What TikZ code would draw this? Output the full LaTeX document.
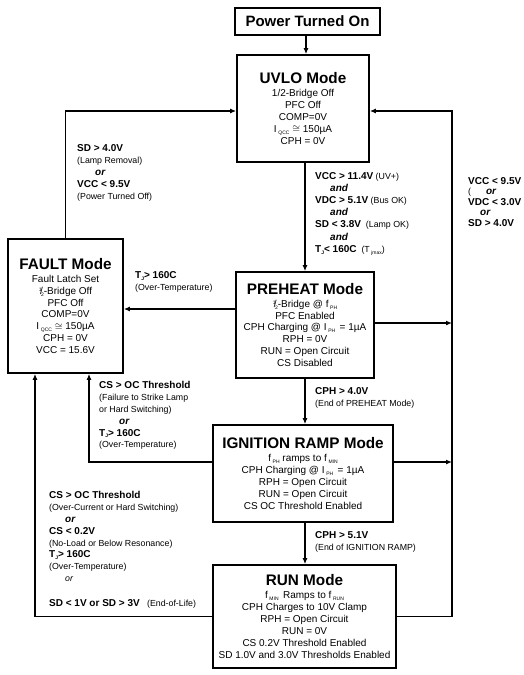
\documentclass[tikz,border=0pt]{standalone}
\usepackage{fontspec}
\setmainfont{Liberation Sans}
\usetikzlibrary{arrows.meta}
\newcommand\sbs[1]{\raisebox{-0.35ex}{\fontsize{5}{5}\selectfont #1}}
\newcommand\half{\raisebox{0.5ex}{\fontsize{5}{5}\selectfont 1}\!/\!\sbs{2}}
\newcommand\bb[1]{{\fontsize{10}{11}\selectfont\bfseries #1}}
\newcommand\bi[1]{{\fontsize{10}{11}\selectfont\bfseries\itshape #1}}
\begin{document}
\begin{tikzpicture}[x=1pt,y=-1pt,
  box/.style={draw,line width=1.7pt,align=center,inner sep=0pt,font=\fontsize{10}{11.9}\selectfont},
  lab/.style={anchor=north west,align=left,inner sep=0pt,font=\fontsize{8.8}{11.9}\selectfont},
  conn/.style={line width=1.5pt},
  arr/.style={conn,-{Latex[length=6pt,width=5pt]}}]
\useasboundingbox (0,0) rectangle (524,675);

% boxes
\node[box,minimum width=145pt,minimum height=27pt,font=\fontsize{15}{16}\selectfont\bfseries] (power) at (307.5,21.5) {Power Turned On};
\node[box,minimum width=132pt,minimum height=107pt] (uvlo) at (303,108.5)
 {{\fontsize{15.3}{16}\selectfont\bfseries UVLO Mode}\\[1pt]
  1/2-Bridge Off\\PFC Off\\COMP=0V\\I\,\sbs{QCC} $\cong$ 150µA\\CPH = 0V};
\node[box,minimum width=115pt,minimum height=134pt] (fault) at (65.5,306)
 {{\fontsize{15.3}{16}\selectfont\bfseries FAULT Mode}\\[1pt]
  Fault Latch Set\\\half-Bridge Off\\PFC Off\\COMP=0V\\I\,\sbs{QCC} $\cong$ 150µA\\CPH = 0V\\VCC = 15.6V};
\node[box,minimum width=138pt,minimum height=106pt] (pre) at (305,325)
 {{\fontsize{15.3}{16}\selectfont\bfseries PREHEAT Mode}\\[1pt]
  \half-Bridge @ f\,\sbs{PH}\\PFC Enabled\\CPH Charging @ I\,\sbs{PH}\, = 1µA\\RPH = 0V\\RUN = Open Circuit\\CS Disabled};
\node[box,minimum width=180pt,minimum height=97pt] (ign) at (303,473.5)
 {{\fontsize{15.3}{16}\selectfont\bfseries IGNITION RAMP Mode}\\[1pt]
  f\,\sbs{PH} ramps to f\,\sbs{MIN}\\CPH Charging @ I\,\sbs{PH}\, = 1µA\\RPH = Open Circuit\\RUN = Open Circuit\\CS OC Threshold Enabled};
\node[box,minimum width=183pt,minimum height=103pt] (run) at (304.5,616.5)
 {{\fontsize{15.3}{16}\selectfont\bfseries RUN Mode}\\[1pt]
  f\,\sbs{MIN}\, Ramps to f\,\sbs{RUN}\\CPH Charges to 10V Clamp\\RPH = Open Circuit\\RUN = 0V\\CS 0.2V Threshold Enabled\\SD 1.0V and 3.0V Thresholds Enabled};

% helper coordinates
\coordinate (fu) at (65.5,111);
\coordinate (bt) at (452,111);
\coordinate (bb) at (452,616.5);
\coordinate (pb) at (452,323);
\coordinate (ib) at (452,462);
\coordinate (il) at (89,462);
\coordinate (rl) at (35,616.5);

% connectors
\draw[arr] (power.south -| 306,0) -- (uvlo.north -| 306,0);
\draw[arr] (fault.north) -- (fu) -- (uvlo.west |- fu);
\draw[arr] (run.east) -- (bb) -- (bt) -- (uvlo.east |- bt);
\draw[arr] (uvlo.south -| 305,0) -- (pre.north -| 305,0);
\draw[arr] (pre.west |- 0,309) -- (fault.east |- 0,309);
\draw[arr] (pre.east |- pb) -- (pb);
\draw[arr] (pre.south -| 305,0) -- (ign.north -| 305,0);
\draw[arr] (ign.west |- il) -- (il) -- (fault.south -| il);
\draw[arr] (ign.east |- ib) -- (ib);
\draw[arr] (ign.south -| 305,0) -- (run.north -| 305,0);
\draw[arr] (run.west |- rl) -- (rl) -- (fault.south -| rl);

% labels
\node[lab] (l1) at (77,144.5) {\bb{SD > 4.0V}\\(Lamp Removal)\\\hspace*{18pt}\bi{or}\\\bb{VCC < 9.5V}\\(Power Turned Off)};
\node[lab,font=\fontsize{8.8}{12.2}\selectfont] (l2) at (315,172) {\bb{VCC > 11.4V} (UV+)\\\hspace*{15pt}\bi{and}\\\bb{VDC > 5.1V} (Bus OK)\\\hspace*{15pt}\bi{and}\\\bb{SD < 3.8V} \ (Lamp OK)\\\hspace*{15pt}\bi{and}\\\bb{T\sbs{J}< 160C} \ (T\,\sbs{jmax})};
\node[lab,font=\fontsize{8.8}{10.6}\selectfont] (l3) at (468,177) {\bb{VCC < 9.5V}\\(\hspace*{15pt}\bi{or}\\\bb{VDC < 3.0V}\\\hspace*{12pt}\bi{or}\\\bb{SD > 4.0V}};
\node[lab] (l4) at (135,271) {\bb{T\sbs{J}> 160C}\\(Over-Temperature)};
\node[lab] (l5) at (99,381) {\bb{CS > OC Threshold}\\(Failure to Strike Lamp\\or Hard Switching)\\\hspace*{20pt}\bi{or}\\\bb{T\sbs{J}> 160C}\\(Over-Temperature)};
\node[lab] (l6) at (49,491) {\bb{CS > OC Threshold}\\(Over-Current or Hard Switching)\\\hspace*{16pt}\bi{or}\\\bb{CS < 0.2V}\\(No-Load or Below Resonance)\\\bb{T\sbs{J}> 160C}\\(Over-Temperature)\\\hspace*{16pt}\textit{or}};
\node[lab] (l7) at (49,599) {\bb{SD < 1V or SD > 3V} \ \ (End-of-Life)};
\node[lab] (l8) at (315,387) {\bb{CPH > 4.0V}\\(End of PREHEAT Mode)};
\node[lab] (l9) at (315,531) {\bb{CPH > 5.1V}\\(End of IGNITION RAMP)};
\end{tikzpicture}
\end{document}
